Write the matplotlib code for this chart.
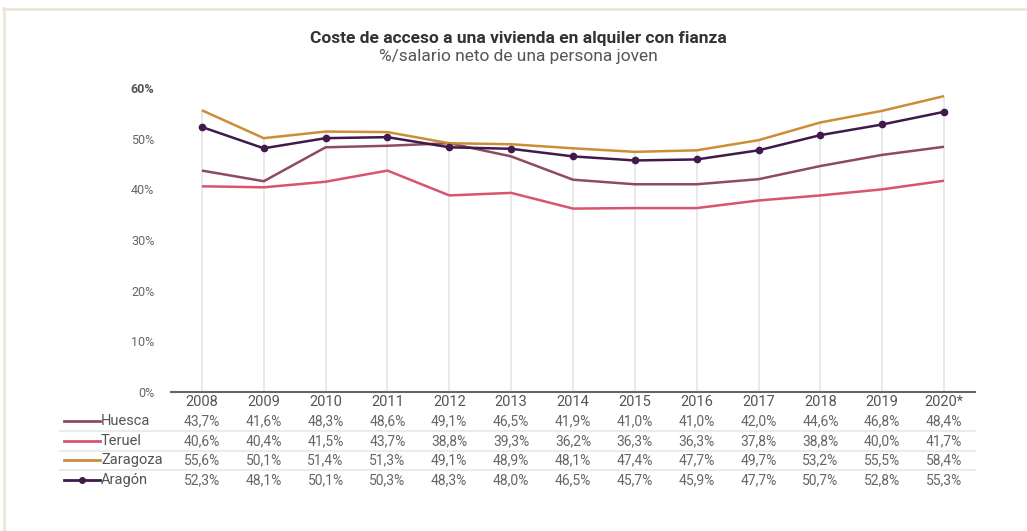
import numpy as np
import matplotlib.pyplot as plt
from matplotlib.lines import Line2D
from matplotlib.transforms import blended_transform_factory

years = ['2008', '2009', '2010', '2011', '2012', '2013', '2014',
         '2015', '2016', '2017', '2018', '2019', '2020*']
huesca = [43.7, 41.6, 48.3, 48.6, 49.1, 46.5, 41.9, 41.0, 41.0, 42.0, 44.6, 46.8, 48.4]
teruel = [40.6, 40.4, 41.5, 43.7, 38.8, 39.3, 36.2, 36.3, 36.3, 37.8, 38.8, 40.0, 41.7]
zaragoza = [55.6, 50.1, 51.4, 51.3, 49.1, 48.9, 48.1, 47.4, 47.7, 49.7, 53.2, 55.5, 58.4]
aragon = [52.3, 48.1, 50.1, 50.3, 48.3, 48.0, 46.5, 45.7, 45.9, 47.7, 50.7, 52.8, 55.3]

series = [
    ('Huesca', huesca, '#8E4A64', None),
    ('Teruel', teruel, '#D9546E', None),
    ('Zaragoza', zaragoza, '#CC8E35', None),
    ('Aragón', aragon, '#3F1A4A', 'o'),
]

plt.rcParams['font.family'] = ['Roboto', 'DejaVu Sans']

W, H = 1027, 531
fig = plt.figure(figsize=(W / 100, H / 100), dpi=100)
fig.patch.set_facecolor('white')

def fx(px):
    return px / W

def fy(py):
    return 1 - py / H

ax = fig.add_axes([fx(171), fy(392), fx(975) - fx(171), fy(88) - fy(392)])
x = np.arange(len(years))

# drop lines up to the highest value of each year
col_max = np.max(np.array([huesca, teruel, zaragoza, aragon]), axis=0)
ax.vlines(x, 0, col_max, color='#E3E3E3', lw=1.1, zorder=1)

for name, vals, color, marker in series:
    ax.plot(x, vals, color=color, lw=1.8, marker=marker, ms=4.5, zorder=3,
            solid_capstyle='butt')

ax.set_xlim(-0.5, len(years) - 0.5)
ax.set_ylim(0, 60)
ax.set_yticks(np.arange(0, 61, 10))
ax.set_yticklabels([f'{v}%' for v in range(0, 61, 10)])
for lbl in ax.get_yticklabels():
    lbl.set_color('#666666')
    lbl.set_fontsize(9)
ax.get_yticklabels()[-1].set_fontweight('bold')
ax.get_yticklabels()[-1].set_color('#555555')
ax.tick_params(axis='y', length=0, pad=12)
ax.set_xticks(x)
ax.set_xticklabels(years, fontsize=10.5, color='#555555')
ax.tick_params(axis='x', length=0, pad=2.5)

for s in ['top', 'right', 'left']:
    ax.spines[s].set_visible(False)
ax.spines['bottom'].set_color('#666666')
ax.spines['bottom'].set_linewidth(1.5)

# data table under the chart
tr = blended_transform_factory(ax.transData, fig.transFigure)
row_y = [421, 441, 460, 480]
for (name, vals, color, marker), py in zip(series, row_y):
    for xi, v in zip(x, vals):
        ax.text(xi, fy(py), f'{v:.1f}%'.replace('.', ','), transform=tr,
                ha='center', va='center', fontsize=10, color='#666666',
                clip_on=False)
    fig.add_artist(Line2D([fx(64), fx(100)], [fy(py), fy(py)], color=color,
                          lw=2, marker=None))
    if marker:
        fig.add_artist(Line2D([fx(82)], [fy(py)], color=color, marker=marker, ms=4))
    fig.text(fx(101), fy(py), name, ha='left', va='center', fontsize=10.5,
             color='#555555')

for py in [431, 450.5, 470]:
    fig.add_artist(Line2D([fx(60), fx(975)], [fy(py), fy(py)], color='#EBEBEB', lw=1.5))

# titles
fig.text(fx(518), fy(38), 'Coste de acceso a una vivienda en alquiler con fianza',
         ha='center', va='center', fontsize=12.5, fontweight='bold', color='#333333')
fig.text(fx(518), fy(56), '%/salario neto de una persona joven',
         ha='center', va='center', fontsize=12.5, color='#555555')

# frame
fig.add_artist(Line2D([fx(3), 1], [fy(8.5), fy(8.5)], color='#ECE5D8', lw=2))
fig.add_artist(Line2D([fx(4), fx(4)], [fy(8), 0], color='#ECE5D8', lw=2))

fig.savefig('out.png', dpi=100, facecolor='white')
